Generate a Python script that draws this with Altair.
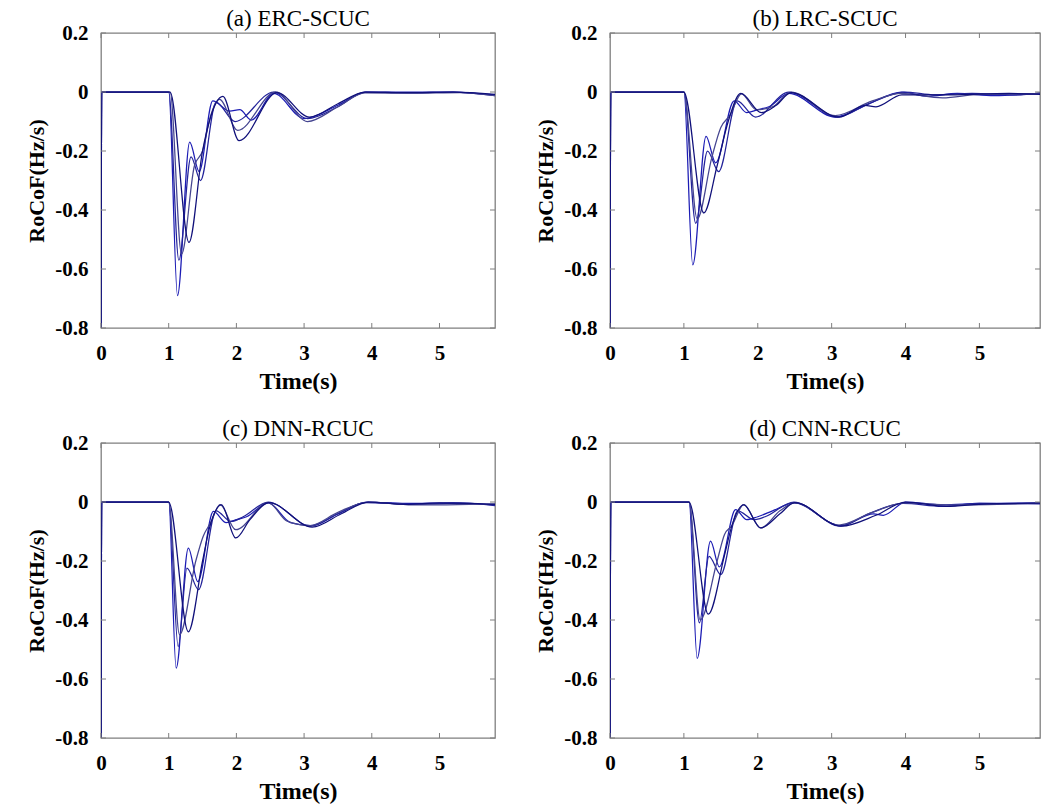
import altair as alt
import pandas as pd

# ---------------- data ----------------
TITLES = ["(a) ERC-SCUC", "(b) LRC-SCUC", "(c) DNN-RCUC", "(d) CNN-RCUC"]
X_TICKS = [0, 1, 2, 3, 4, 5]
Y_TICKS = [0.2, 0.0, -0.2, -0.4, -0.6, -0.8]
X_MAX = 5.82
START = [(0.0, -0.9), (0.01, 0.0)]

# panel (a) ERC-SCUC
A1 = [(1.0, 0), (1.13, -0.69), (1.31, -0.17), (1.45, -0.27), (1.65, -0.03), (1.9, -0.065), (2.05, -0.06), (2.22, -0.095), (2.55, -0.005), (3.0, -0.09), (3.5, -0.045), (3.92, 0), (4.5, 0), (5.2, 0.0), (5.82, -0.01)]
A2 = [(1.0, 0), (1.15, -0.57), (1.33, -0.22), (1.47, -0.30), (1.7, -0.035), (1.98, -0.10), (2.55, 0), (3.05, -0.09), (3.5, -0.05), (3.9, 0), (4.6, -0.003), (5.2, 0), (5.82, -0.012)]
A3 = [(1.02, 0), (1.19, -0.55), (1.38, -0.25), (1.5, -0.2), (1.62, -0.08), (1.75, -0.025), (2.02, -0.13), (2.58, 0), (3.05, -0.1), (3.5, -0.05), (3.9, -0.003), (4.6, -0.004), (5.3, -0.002), (5.82, -0.012)]
A4 = [(1.02, 0), (1.3, -0.51), (1.5, -0.2), (1.6, -0.1), (1.8, -0.015), (2.04, -0.165), (2.6, -0.002), (3.08, -0.085), (3.5, -0.04), (3.9, 0), (4.5, -0.002), (5.2, 0), (5.82, -0.008)]

# panel (b) LRC-SCUC
B1 = [(1.0, 0), (1.12, -0.586), (1.30, -0.15), (1.43, -0.24), (1.68, -0.03), (1.85, -0.07), (2.0, -0.06), (2.15, -0.05), (2.42, -0.005), (3.05, -0.085), (3.5, -0.04), (3.95, 0), (4.3, -0.015), (4.7, -0.005), (5.2, -0.012), (5.82, -0.005)]
B2 = [(1.0, 0), (1.16, -0.445), (1.32, -0.20), (1.47, -0.27), (1.72, -0.03), (1.97, -0.085), (2.42, 0), (3.08, -0.085), (3.5, -0.04), (3.98, 0), (4.4, -0.01), (4.9, -0.005), (5.5, -0.01), (5.82, -0.003)]
B3 = [(1.0, 0), (1.18, -0.43), (1.38, -0.22), (1.5, -0.12), (1.62, -0.08), (1.78, -0.006), (1.98, -0.06), (2.2, -0.05), (2.45, 0), (3.05, -0.08), (3.55, -0.03), (3.95, -0.005), (4.5, -0.02), (5.0, -0.008), (5.82, -0.006)]
B4 = [(1.0, 0), (1.27, -0.41), (1.45, -0.25), (1.6, -0.1), (1.77, -0.005), (2.05, -0.07), (2.25, -0.045), (2.45, -0.002), (3.1, -0.085), (3.45, -0.045), (3.6, -0.05), (3.95, -0.01), (4.6, -0.01), (5.4, -0.005), (5.82, -0.008)]

# panel (c) DNN-RCUC
C1 = [(1.0, 0), (1.11, -0.563), (1.29, -0.156), (1.43, -0.27), (1.66, -0.032), (1.85, -0.07), (2.0, -0.06), (2.15, -0.05), (2.47, -0.003), (2.8, -0.07), (3.1, -0.08), (3.5, -0.04), (3.93, 0), (4.5, -0.005), (5.2, -0.003), (5.82, -0.01)]
C2 = [(1.0, 0), (1.14, -0.49), (1.27, -0.224), (1.44, -0.297), (1.70, -0.03), (1.92, -0.066), (2.1, -0.05), (2.47, 0), (3.1, -0.082), (3.5, -0.04), (3.9, -0.002), (4.6, -0.008), (5.3, -0.004), (5.82, -0.012)]
C3 = [(1.0, 0), (1.16, -0.45), (1.4, -0.2), (1.51, -0.116), (1.62, -0.07), (1.76, -0.009), (1.99, -0.094), (2.47, -0.002), (2.75, -0.065), (3.08, -0.08), (3.5, -0.035), (3.95, 0), (4.6, -0.01), (5.82, -0.006)]
C4 = [(1.0, 0), (1.29, -0.44), (1.5, -0.2), (1.6, -0.09), (1.78, -0.01), (1.99, -0.122), (2.2, -0.06), (2.48, -0.002), (3.12, -0.085), (3.55, -0.04), (3.95, 0), (4.5, -0.008), (5.0, -0.003), (5.82, -0.008)]

# panel (d) CNN-RCUC
D1 = [(1.07, 0), (1.18, -0.53), (1.36, -0.133), (1.48, -0.22), (1.70, -0.026), (1.85, -0.06), (2.0, -0.05), (2.2, -0.03), (2.49, -0.003), (3.12, -0.08), (3.57, -0.04), (3.7, -0.045), (4.0, 0), (4.5, -0.01), (5.0, -0.005), (5.82, -0.003)]
D2 = [(1.07, 0), (1.21, -0.41), (1.34, -0.184), (1.5, -0.246), (1.73, -0.03), (1.95, -0.06), (2.1, -0.05), (2.49, 0), (3.12, -0.082), (3.5, -0.04), (3.97, -0.005), (4.5, -0.015), (5.0, -0.005), (5.82, -0.006)]
D3 = [(1.07, 0), (1.22, -0.4), (1.45, -0.2), (1.55, -0.11), (1.65, -0.08), (1.81, -0.009), (2.04, -0.088), (2.3, -0.03), (2.5, -0.003), (3.1, -0.078), (3.55, -0.035), (4.0, -0.003), (4.6, -0.01), (5.82, -0.004)]
D4 = [(1.07, 0), (1.33, -0.38), (1.55, -0.18), (1.65, -0.08), (1.81, -0.01), (2.04, -0.088), (2.3, -0.04), (2.5, -0.002), (3.13, -0.082), (3.6, -0.045), (4.0, 0), (4.55, -0.015), (5.1, -0.006), (5.82, -0.004)]

PANELS = [[A1, A2, A3, A4], [B1, B2, B3, B4], [C1, C2, C3, C4], [D1, D2, D3, D4]]
RUNS = ["r1", "r2", "r3", "r4"]
COLORS = ["#1c1cb4", "#23239a", "#454590", "#10107a"]

SERIF = "Liberation Serif"
FRAME = "#7f7f7f"
H = 295


def panel(title, curves, width):
    rows = []
    for run, curve in zip(RUNS, curves):
        for t, v in START + curve:
            rows.append({"t": t, "v": v, "run": run})
    df = pd.DataFrame(rows)

    xs = alt.Scale(domain=[0, X_MAX], nice=False, zero=False)
    ys = alt.Scale(domain=[-0.8, 0.2], nice=False, zero=False)
    xax = alt.Axis(values=X_TICKS, title="Time(s)", labelPadding=14, titlePadding=6,
                   titleFontSize=24, labelFontSize=21, labelFlush=False)
    yax = alt.Axis(values=Y_TICKS, title="RoCoF(Hz/s)", labelPadding=13, titlePadding=6,
                   minExtent=47, maxExtent=47, titleFontSize=22, labelFontSize=21,
                   labelFlush=False,
                   labelExpr="datum.value == 0 ? '0' : (datum.value < 0 ? '-' + format(-datum.value, '.1f') : format(datum.value, '.1f'))")

    lines = alt.Chart(df).mark_line(interpolate="monotone", strokeWidth=1.25, clip=True).encode(
        x=alt.X("t:Q", scale=xs, axis=xax),
        y=alt.Y("v:Q", scale=ys, axis=yax),
        color=alt.Color("run:N", scale=alt.Scale(domain=RUNS, range=COLORS), legend=None),
    )

    ydf = pd.DataFrame({"v": Y_TICKS})
    xdf = pd.DataFrame({"t": X_TICKS})
    yl = alt.Chart(ydf).mark_rule(color=FRAME, strokeWidth=1).encode(
        y=alt.Y("v:Q", scale=ys, axis=yax), x=alt.value(0), x2=alt.value(5))
    yr = alt.Chart(ydf).mark_rule(color=FRAME, strokeWidth=1).encode(
        y=alt.Y("v:Q", scale=ys, axis=yax), x=alt.value(width - 5), x2=alt.value(width))
    xb = alt.Chart(xdf).mark_rule(color=FRAME, strokeWidth=1).encode(
        x=alt.X("t:Q", scale=xs, axis=xax), y=alt.value(H - 5), y2=alt.value(H))
    xt = alt.Chart(xdf).mark_rule(color=FRAME, strokeWidth=1).encode(
        x=alt.X("t:Q", scale=xs, axis=xax), y=alt.value(0), y2=alt.value(5))

    return alt.layer(lines, yl, yr, xb, xt).properties(
        width=width, height=H,
        title=alt.TitleParams(title, font=SERIF, fontSize=23, fontWeight="normal",
                              color="black", offset=-9, anchor="middle", frame="group"))


pa = panel(TITLES[0], PANELS[0], 394)
pb = panel(TITLES[1], PANELS[1], 430)
pc = panel(TITLES[2], PANELS[2], 394)
pd_ = panel(TITLES[3], PANELS[3], 430)

row1 = alt.hconcat(pa, pb, spacing=36)
row2 = alt.hconcat(pc, pd_, spacing=36)

chart = alt.vconcat(row1, row2, spacing=23).properties(
    padding={"left": 24, "top": 7, "right": 5, "bottom": 5},
    background="white",
).configure_view(
    stroke=FRAME, strokeWidth=1.3
).configure_axis(
    domain=False, ticks=False, grid=False,
    labelFont=SERIF, labelFontWeight="bold", labelColor="black",
    titleFont=SERIF, titleFontWeight="bold", titleColor="black",
)

chart.save("out.html", embed_options={"renderer": "svg", "actions": False})
